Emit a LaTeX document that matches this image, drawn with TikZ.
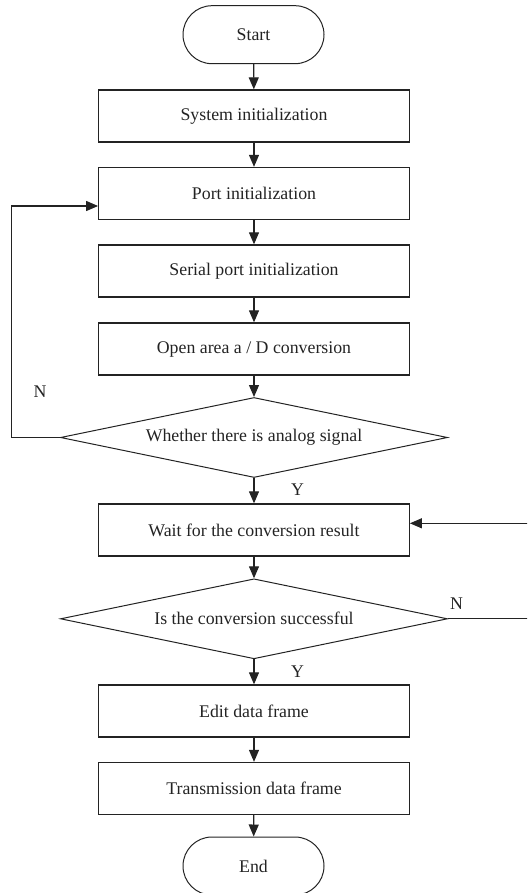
\documentclass[tikz,border=0pt]{standalone}
\usepackage{fontspec}
\setmainfont{Liberation Serif}
\usetikzlibrary{arrows.meta,shapes.geometric,calc}
\definecolor{ink}{RGB}{35,35,35}
\begin{document}
\begin{tikzpicture}[x=1pt,y=-1pt,
  every node/.style={font=\fontsize{17.8}{20}\selectfont, text=ink},
  proc/.style={draw=ink, line width=1.3pt, rectangle, minimum width=310.5pt, minimum height=52pt, inner sep=0pt},
  term/.style={draw=ink, line width=1pt, rectangle, rounded corners=29pt, minimum width=141pt, minimum height=58pt, inner sep=0pt},
  decide/.style={draw=ink, line width=1pt, diamond, aspect=4.84, minimum width=387pt, minimum height=80pt, inner sep=0pt},
  arr/.style={draw=ink, line width=1.2pt, -{Triangle[length=12pt,width=10pt]}},
  lnk/.style={draw=ink, line width=1.2pt},
  tag/.style={inner sep=0pt}]
\useasboundingbox (0,0) rectangle (527,893);
\clip (0,0) rectangle (527,893);

% main column
\node[term]   (start)  at (253.5,34.7) {Start};
\node[proc]   (sys)    at (254,116)    {System initialization};
\node[proc]   (port)   at (254,193.5)  {Port initialization};
\node[proc]   (serial) at (254,271)    {Serial port initialization};
\node[proc]   (open)   at (254,349)    {Open area a / D conversion};
\node[decide] (dec1)   at (254,437.5)  {Whether there is analog signal};
\node[proc]   (wait)   at (254,530)    {Wait for the conversion result};
\node[decide] (dec2)   at (254,618.8)  {Is the conversion successful};
\node[proc]   (edit)   at (254,711)    {Edit data frame};
\node[proc]   (trans)  at (254,788.5)  {Transmission data frame};
\node[term]   (end)    at (253.5,866)  {End};

\draw[arr] (start) -- (sys);
\draw[arr] (sys) -- (port);
\draw[arr] (port) -- (serial);
\draw[arr] (serial) -- (open);
\draw[arr] (open) -- (dec1);
\draw[arr] (dec1) -- (wait);
\draw[arr] (wait) -- (dec2);
\draw[arr] (dec2) -- (edit);
\draw[arr] (edit) -- (trans);
\draw[arr] (trans) -- (end);

% "no signal" loop back to port initialization
\coordinate (lp) at (11.8,206);
\draw[arr] (dec1.west) -- (dec1.west -| lp) -- (lp) -- (lp -| port.west);

% "not successful" loop back to waiting
\coordinate (rp) at (531,523.3);
\draw[arr] (dec2.east) -- (dec2.east -| rp) -- (rp) -- (rp -| wait.east);

% branch labels
\node[tag] (n1) at (40,392)    {N};
\node[tag] (y1) at (297.5,490) {Y};
\node[tag] (n2) at (456.5,604) {N};
\node[tag] (y2) at (297.5,672) {Y};
\end{tikzpicture}
\end{document}
